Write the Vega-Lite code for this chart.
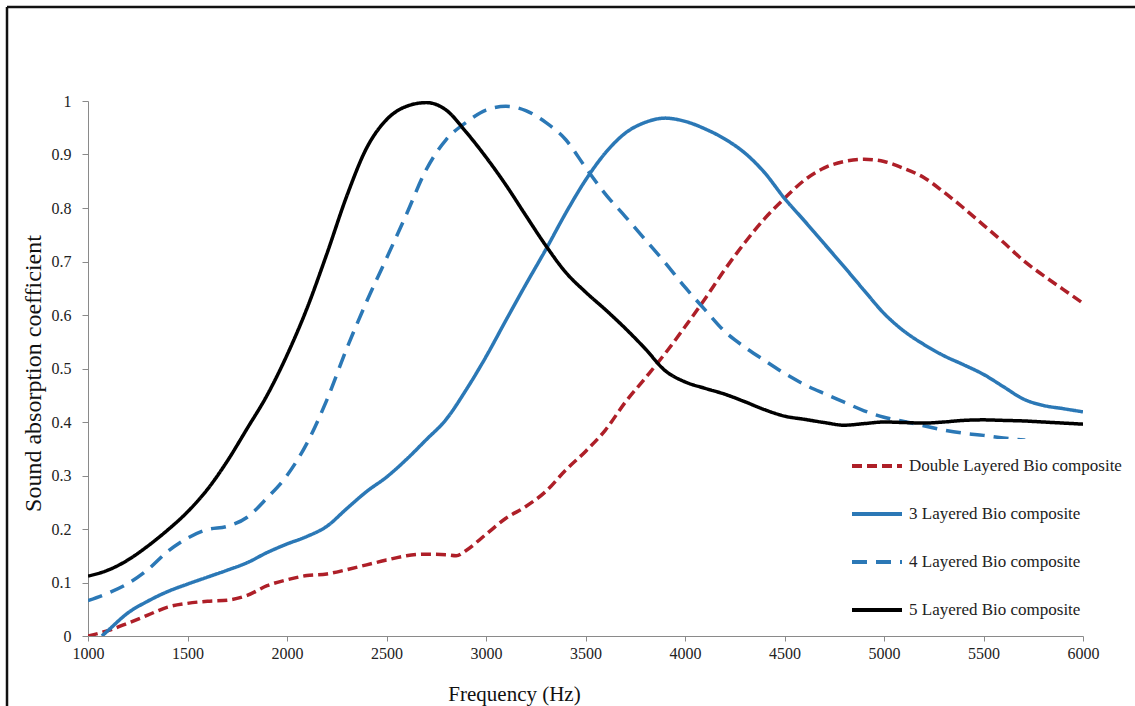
{
  "$schema": "https://vega.github.io/schema/vega-lite/v6.json",
  "autosize": "none",
  "width": 995,
  "height": 535,
  "padding": {"top": 101, "left": 88, "right": 52, "bottom": 70},
  "background": "white",
  "config": {
    "view": {"stroke": null},
    "font": "Liberation Serif",
    "axis": {
      "grid": false,
      "domainColor": "#8a8a8a",
      "tickColor": "#8a8a8a",
      "labelFont": "Liberation Serif",
      "labelFontSize": 16,
      "labelColor": "#222222",
      "titleFont": "Liberation Serif",
      "titleFontWeight": "normal",
      "titleColor": "#111111"
    }
  },
  "datasets": {
    "curves": [
      {"series": "Double Layered Bio composite", "f": 1000, "a": 0.0},
      {"series": "Double Layered Bio composite", "f": 1100, "a": 0.01},
      {"series": "Double Layered Bio composite", "f": 1200, "a": 0.024},
      {"series": "Double Layered Bio composite", "f": 1300, "a": 0.039},
      {"series": "Double Layered Bio composite", "f": 1400, "a": 0.054},
      {"series": "Double Layered Bio composite", "f": 1500, "a": 0.061},
      {"series": "Double Layered Bio composite", "f": 1600, "a": 0.065},
      {"series": "Double Layered Bio composite", "f": 1700, "a": 0.067},
      {"series": "Double Layered Bio composite", "f": 1800, "a": 0.076},
      {"series": "Double Layered Bio composite", "f": 1900, "a": 0.094},
      {"series": "Double Layered Bio composite", "f": 2000, "a": 0.105},
      {"series": "Double Layered Bio composite", "f": 2100, "a": 0.113},
      {"series": "Double Layered Bio composite", "f": 2200, "a": 0.116},
      {"series": "Double Layered Bio composite", "f": 2300, "a": 0.124},
      {"series": "Double Layered Bio composite", "f": 2400, "a": 0.133},
      {"series": "Double Layered Bio composite", "f": 2500, "a": 0.142},
      {"series": "Double Layered Bio composite", "f": 2600, "a": 0.15},
      {"series": "Double Layered Bio composite", "f": 2700, "a": 0.153},
      {"series": "Double Layered Bio composite", "f": 2800, "a": 0.152},
      {"series": "Double Layered Bio composite", "f": 2850, "a": 0.15},
      {"series": "Double Layered Bio composite", "f": 2900, "a": 0.16},
      {"series": "Double Layered Bio composite", "f": 3000, "a": 0.19},
      {"series": "Double Layered Bio composite", "f": 3100, "a": 0.22},
      {"series": "Double Layered Bio composite", "f": 3200, "a": 0.242},
      {"series": "Double Layered Bio composite", "f": 3300, "a": 0.27},
      {"series": "Double Layered Bio composite", "f": 3400, "a": 0.31},
      {"series": "Double Layered Bio composite", "f": 3500, "a": 0.345},
      {"series": "Double Layered Bio composite", "f": 3600, "a": 0.385},
      {"series": "Double Layered Bio composite", "f": 3700, "a": 0.437},
      {"series": "Double Layered Bio composite", "f": 3800, "a": 0.482},
      {"series": "Double Layered Bio composite", "f": 3900, "a": 0.528},
      {"series": "Double Layered Bio composite", "f": 4000, "a": 0.578},
      {"series": "Double Layered Bio composite", "f": 4100, "a": 0.63},
      {"series": "Double Layered Bio composite", "f": 4200, "a": 0.685},
      {"series": "Double Layered Bio composite", "f": 4300, "a": 0.735},
      {"series": "Double Layered Bio composite", "f": 4400, "a": 0.78},
      {"series": "Double Layered Bio composite", "f": 4500, "a": 0.818},
      {"series": "Double Layered Bio composite", "f": 4600, "a": 0.852},
      {"series": "Double Layered Bio composite", "f": 4700, "a": 0.875},
      {"series": "Double Layered Bio composite", "f": 4800, "a": 0.887},
      {"series": "Double Layered Bio composite", "f": 4900, "a": 0.891},
      {"series": "Double Layered Bio composite", "f": 5000, "a": 0.887},
      {"series": "Double Layered Bio composite", "f": 5100, "a": 0.874},
      {"series": "Double Layered Bio composite", "f": 5200, "a": 0.857},
      {"series": "Double Layered Bio composite", "f": 5300, "a": 0.83},
      {"series": "Double Layered Bio composite", "f": 5400, "a": 0.8},
      {"series": "Double Layered Bio composite", "f": 5500, "a": 0.768},
      {"series": "Double Layered Bio composite", "f": 5600, "a": 0.736},
      {"series": "Double Layered Bio composite", "f": 5700, "a": 0.702},
      {"series": "Double Layered Bio composite", "f": 5800, "a": 0.674},
      {"series": "Double Layered Bio composite", "f": 5900, "a": 0.648},
      {"series": "Double Layered Bio composite", "f": 6000, "a": 0.622},

      {"series": "3 Layered Bio composite", "f": 1070, "a": 0.0},
      {"series": "3 Layered Bio composite", "f": 1100, "a": 0.01},
      {"series": "3 Layered Bio composite", "f": 1200, "a": 0.043},
      {"series": "3 Layered Bio composite", "f": 1300, "a": 0.065},
      {"series": "3 Layered Bio composite", "f": 1400, "a": 0.083},
      {"series": "3 Layered Bio composite", "f": 1500, "a": 0.097},
      {"series": "3 Layered Bio composite", "f": 1600, "a": 0.11},
      {"series": "3 Layered Bio composite", "f": 1700, "a": 0.123},
      {"series": "3 Layered Bio composite", "f": 1800, "a": 0.137},
      {"series": "3 Layered Bio composite", "f": 1900, "a": 0.156},
      {"series": "3 Layered Bio composite", "f": 2000, "a": 0.172},
      {"series": "3 Layered Bio composite", "f": 2100, "a": 0.186},
      {"series": "3 Layered Bio composite", "f": 2200, "a": 0.205},
      {"series": "3 Layered Bio composite", "f": 2300, "a": 0.238},
      {"series": "3 Layered Bio composite", "f": 2400, "a": 0.27},
      {"series": "3 Layered Bio composite", "f": 2500, "a": 0.297},
      {"series": "3 Layered Bio composite", "f": 2600, "a": 0.33},
      {"series": "3 Layered Bio composite", "f": 2700, "a": 0.367},
      {"series": "3 Layered Bio composite", "f": 2800, "a": 0.405},
      {"series": "3 Layered Bio composite", "f": 2900, "a": 0.46},
      {"series": "3 Layered Bio composite", "f": 3000, "a": 0.522},
      {"series": "3 Layered Bio composite", "f": 3100, "a": 0.59},
      {"series": "3 Layered Bio composite", "f": 3200, "a": 0.657},
      {"series": "3 Layered Bio composite", "f": 3300, "a": 0.722},
      {"series": "3 Layered Bio composite", "f": 3400, "a": 0.79},
      {"series": "3 Layered Bio composite", "f": 3500, "a": 0.852},
      {"series": "3 Layered Bio composite", "f": 3600, "a": 0.903},
      {"series": "3 Layered Bio composite", "f": 3700, "a": 0.94},
      {"series": "3 Layered Bio composite", "f": 3800, "a": 0.96},
      {"series": "3 Layered Bio composite", "f": 3900, "a": 0.968},
      {"series": "3 Layered Bio composite", "f": 4000, "a": 0.962},
      {"series": "3 Layered Bio composite", "f": 4100, "a": 0.948},
      {"series": "3 Layered Bio composite", "f": 4200, "a": 0.929},
      {"series": "3 Layered Bio composite", "f": 4300, "a": 0.903},
      {"series": "3 Layered Bio composite", "f": 4400, "a": 0.866},
      {"series": "3 Layered Bio composite", "f": 4500, "a": 0.818},
      {"series": "3 Layered Bio composite", "f": 4600, "a": 0.776},
      {"series": "3 Layered Bio composite", "f": 4700, "a": 0.733},
      {"series": "3 Layered Bio composite", "f": 4800, "a": 0.69},
      {"series": "3 Layered Bio composite", "f": 4900, "a": 0.646},
      {"series": "3 Layered Bio composite", "f": 5000, "a": 0.603},
      {"series": "3 Layered Bio composite", "f": 5100, "a": 0.57},
      {"series": "3 Layered Bio composite", "f": 5200, "a": 0.545},
      {"series": "3 Layered Bio composite", "f": 5300, "a": 0.524},
      {"series": "3 Layered Bio composite", "f": 5400, "a": 0.507},
      {"series": "3 Layered Bio composite", "f": 5500, "a": 0.489},
      {"series": "3 Layered Bio composite", "f": 5600, "a": 0.466},
      {"series": "3 Layered Bio composite", "f": 5700, "a": 0.443},
      {"series": "3 Layered Bio composite", "f": 5800, "a": 0.431},
      {"series": "3 Layered Bio composite", "f": 5900, "a": 0.425},
      {"series": "3 Layered Bio composite", "f": 6000, "a": 0.419},

      {"series": "4 Layered Bio composite", "f": 1000, "a": 0.066},
      {"series": "4 Layered Bio composite", "f": 1100, "a": 0.08},
      {"series": "4 Layered Bio composite", "f": 1200, "a": 0.098},
      {"series": "4 Layered Bio composite", "f": 1300, "a": 0.124},
      {"series": "4 Layered Bio composite", "f": 1400, "a": 0.158},
      {"series": "4 Layered Bio composite", "f": 1500, "a": 0.183},
      {"series": "4 Layered Bio composite", "f": 1600, "a": 0.199},
      {"series": "4 Layered Bio composite", "f": 1700, "a": 0.205},
      {"series": "4 Layered Bio composite", "f": 1800, "a": 0.222},
      {"series": "4 Layered Bio composite", "f": 1900, "a": 0.258},
      {"series": "4 Layered Bio composite", "f": 2000, "a": 0.3},
      {"series": "4 Layered Bio composite", "f": 2100, "a": 0.36},
      {"series": "4 Layered Bio composite", "f": 2200, "a": 0.441},
      {"series": "4 Layered Bio composite", "f": 2300, "a": 0.537},
      {"series": "4 Layered Bio composite", "f": 2400, "a": 0.625},
      {"series": "4 Layered Bio composite", "f": 2500, "a": 0.706},
      {"series": "4 Layered Bio composite", "f": 2600, "a": 0.788},
      {"series": "4 Layered Bio composite", "f": 2700, "a": 0.872},
      {"series": "4 Layered Bio composite", "f": 2800, "a": 0.928},
      {"series": "4 Layered Bio composite", "f": 2900, "a": 0.96},
      {"series": "4 Layered Bio composite", "f": 3000, "a": 0.983},
      {"series": "4 Layered Bio composite", "f": 3100, "a": 0.99},
      {"series": "4 Layered Bio composite", "f": 3200, "a": 0.982},
      {"series": "4 Layered Bio composite", "f": 3300, "a": 0.96},
      {"series": "4 Layered Bio composite", "f": 3400, "a": 0.928},
      {"series": "4 Layered Bio composite", "f": 3500, "a": 0.876},
      {"series": "4 Layered Bio composite", "f": 3600, "a": 0.826},
      {"series": "4 Layered Bio composite", "f": 3700, "a": 0.784},
      {"series": "4 Layered Bio composite", "f": 3800, "a": 0.741},
      {"series": "4 Layered Bio composite", "f": 3900, "a": 0.698},
      {"series": "4 Layered Bio composite", "f": 4000, "a": 0.652},
      {"series": "4 Layered Bio composite", "f": 4100, "a": 0.61},
      {"series": "4 Layered Bio composite", "f": 4200, "a": 0.569},
      {"series": "4 Layered Bio composite", "f": 4300, "a": 0.54},
      {"series": "4 Layered Bio composite", "f": 4400, "a": 0.515},
      {"series": "4 Layered Bio composite", "f": 4500, "a": 0.491},
      {"series": "4 Layered Bio composite", "f": 4600, "a": 0.47},
      {"series": "4 Layered Bio composite", "f": 4700, "a": 0.453},
      {"series": "4 Layered Bio composite", "f": 4800, "a": 0.437},
      {"series": "4 Layered Bio composite", "f": 4900, "a": 0.421},
      {"series": "4 Layered Bio composite", "f": 5000, "a": 0.409},
      {"series": "4 Layered Bio composite", "f": 5100, "a": 0.401},
      {"series": "4 Layered Bio composite", "f": 5200, "a": 0.393},
      {"series": "4 Layered Bio composite", "f": 5300, "a": 0.385},
      {"series": "4 Layered Bio composite", "f": 5400, "a": 0.379},
      {"series": "4 Layered Bio composite", "f": 5500, "a": 0.375},
      {"series": "4 Layered Bio composite", "f": 5600, "a": 0.37},
      {"series": "4 Layered Bio composite", "f": 5710, "a": 0.366},

      {"series": "5 Layered Bio composite", "f": 1000, "a": 0.112},
      {"series": "5 Layered Bio composite", "f": 1100, "a": 0.123},
      {"series": "5 Layered Bio composite", "f": 1200, "a": 0.142},
      {"series": "5 Layered Bio composite", "f": 1300, "a": 0.168},
      {"series": "5 Layered Bio composite", "f": 1400, "a": 0.198},
      {"series": "5 Layered Bio composite", "f": 1500, "a": 0.232},
      {"series": "5 Layered Bio composite", "f": 1600, "a": 0.274},
      {"series": "5 Layered Bio composite", "f": 1700, "a": 0.327},
      {"series": "5 Layered Bio composite", "f": 1800, "a": 0.388},
      {"series": "5 Layered Bio composite", "f": 1900, "a": 0.45},
      {"series": "5 Layered Bio composite", "f": 2000, "a": 0.525},
      {"series": "5 Layered Bio composite", "f": 2100, "a": 0.612},
      {"series": "5 Layered Bio composite", "f": 2200, "a": 0.714},
      {"series": "5 Layered Bio composite", "f": 2300, "a": 0.822},
      {"series": "5 Layered Bio composite", "f": 2400, "a": 0.912},
      {"series": "5 Layered Bio composite", "f": 2500, "a": 0.965},
      {"series": "5 Layered Bio composite", "f": 2600, "a": 0.99},
      {"series": "5 Layered Bio composite", "f": 2700, "a": 0.997},
      {"series": "5 Layered Bio composite", "f": 2800, "a": 0.983},
      {"series": "5 Layered Bio composite", "f": 2900, "a": 0.942},
      {"series": "5 Layered Bio composite", "f": 3000, "a": 0.895},
      {"series": "5 Layered Bio composite", "f": 3100, "a": 0.843},
      {"series": "5 Layered Bio composite", "f": 3200, "a": 0.786},
      {"series": "5 Layered Bio composite", "f": 3300, "a": 0.73},
      {"series": "5 Layered Bio composite", "f": 3400, "a": 0.68},
      {"series": "5 Layered Bio composite", "f": 3500, "a": 0.643},
      {"series": "5 Layered Bio composite", "f": 3600, "a": 0.61},
      {"series": "5 Layered Bio composite", "f": 3700, "a": 0.575},
      {"series": "5 Layered Bio composite", "f": 3800, "a": 0.537},
      {"series": "5 Layered Bio composite", "f": 3900, "a": 0.496},
      {"series": "5 Layered Bio composite", "f": 4000, "a": 0.475},
      {"series": "5 Layered Bio composite", "f": 4100, "a": 0.463},
      {"series": "5 Layered Bio composite", "f": 4200, "a": 0.452},
      {"series": "5 Layered Bio composite", "f": 4300, "a": 0.438},
      {"series": "5 Layered Bio composite", "f": 4400, "a": 0.423},
      {"series": "5 Layered Bio composite", "f": 4500, "a": 0.411},
      {"series": "5 Layered Bio composite", "f": 4600, "a": 0.405},
      {"series": "5 Layered Bio composite", "f": 4700, "a": 0.399},
      {"series": "5 Layered Bio composite", "f": 4800, "a": 0.394},
      {"series": "5 Layered Bio composite", "f": 4900, "a": 0.397},
      {"series": "5 Layered Bio composite", "f": 5000, "a": 0.4},
      {"series": "5 Layered Bio composite", "f": 5100, "a": 0.399},
      {"series": "5 Layered Bio composite", "f": 5200, "a": 0.398},
      {"series": "5 Layered Bio composite", "f": 5300, "a": 0.4},
      {"series": "5 Layered Bio composite", "f": 5400, "a": 0.403},
      {"series": "5 Layered Bio composite", "f": 5500, "a": 0.404},
      {"series": "5 Layered Bio composite", "f": 5600, "a": 0.403},
      {"series": "5 Layered Bio composite", "f": 5700, "a": 0.402},
      {"series": "5 Layered Bio composite", "f": 5800, "a": 0.4},
      {"series": "5 Layered Bio composite", "f": 5900, "a": 0.398},
      {"series": "5 Layered Bio composite", "f": 6000, "a": 0.396}
    ],
    "frame": [{"k": 1}]
  },
  "encoding": {
    "x": {
      "type": "quantitative",
      "title": "Frequency (Hz)",
      "scale": {"domain": [1000, 6000], "nice": false, "zero": false},
      "axis": {
        "values": [1000, 1500, 2000, 2500, 3000, 3500, 4000, 4500, 5000, 5500, 6000],
        "format": "d",
        "labelFlush": false,
        "tickSize": 5,
        "labelPadding": 4,
        "titleFontSize": 21,
        "titleX": 426,
        "titleY": 64,
        "titleBaseline": "alphabetic",
        "titleAlign": "center"
      }
    },
    "y": {
      "type": "quantitative",
      "title": "Sound absorption coefficient",
      "scale": {"domain": [0, 1], "nice": false},
      "axis": {
        "values": [0, 0.1, 0.2, 0.3, 0.4, 0.5, 0.6, 0.7, 0.8, 0.9, 1],
        "format": ".1~f",
        "labelFlush": false,
        "tickSize": 6,
        "labelPadding": 11,
        "titleFontSize": 24,
        "titleX": -55,
        "titleY": 272,
        "titleAlign": "center",
        "titleBaseline": "middle"
      }
    }
  },
  "layer": [
    {
      "data": {"name": "curves"},
      "mark": {"type": "line", "interpolate": "monotone", "strokeWidth": 3.5, "clip": true},
      "encoding": {
        "x": {"field": "f", "type": "quantitative", "title": "Frequency (Hz)"},
        "y": {"field": "a", "type": "quantitative", "title": "Sound absorption coefficient"},
        "color": {
          "field": "series", "type": "nominal",
          "scale": {
            "domain": ["Double Layered Bio composite", "3 Layered Bio composite", "4 Layered Bio composite", "5 Layered Bio composite"],
            "range": ["#AE1F28", "#2B78B6", "#2B78B6", "#000000"]
          },
          "legend": {
            "title": null,
            "orient": "none",
            "legendX": 762,
            "legendY": 338,
            "symbolType": "stroke",
            "symbolSize": 2500,
            "symbolStrokeWidth": 4,
            "labelFont": "Liberation Serif",
            "labelFontSize": 17,
            "labelColor": "#222222",
            "labelOffset": 5,
            "rowPadding": 13,
            "fillColor": "white",
            "padding": 0,
            "labelLimit": 400
          }
        },
        "strokeDash": {
          "field": "series", "type": "nominal",
          "scale": {
            "domain": ["Double Layered Bio composite", "3 Layered Bio composite", "4 Layered Bio composite", "5 Layered Bio composite"],
            "range": [[10, 5], [1, 0], [15, 9], [1, 0]]
          },
          "legend": {
            "title": null,
            "orient": "none",
            "legendX": 762,
            "legendY": 338,
            "symbolType": "stroke",
            "symbolSize": 2500,
            "symbolStrokeWidth": 4,
            "labelFont": "Liberation Serif",
            "labelFontSize": 17,
            "labelColor": "#222222",
            "labelOffset": 5,
            "rowPadding": 13,
            "fillColor": "white",
            "padding": 0,
            "labelLimit": 400
          }
        }
      }
    },
    {
      "data": {"name": "frame"},
      "mark": {"type": "rule", "color": "#111111", "strokeWidth": 2.5},
      "encoding": {
        "x": {"datum": 593, "type": "quantitative", "title": "Frequency (Hz)"},
        "y": {"datum": 1.1757, "type": "quantitative", "title": "Sound absorption coefficient"},
        "y2": {"datum": -0.3}
      }
    },
    {
      "data": {"name": "frame"},
      "mark": {"type": "rule", "color": "#111111", "strokeWidth": 2.5},
      "encoding": {
        "y": {"datum": 1.1757, "type": "quantitative", "title": "Sound absorption coefficient"},
        "x": {"datum": 593, "type": "quantitative", "title": "Frequency (Hz)"},
        "x2": {"datum": 6500}
      }
    }
  ]
}
